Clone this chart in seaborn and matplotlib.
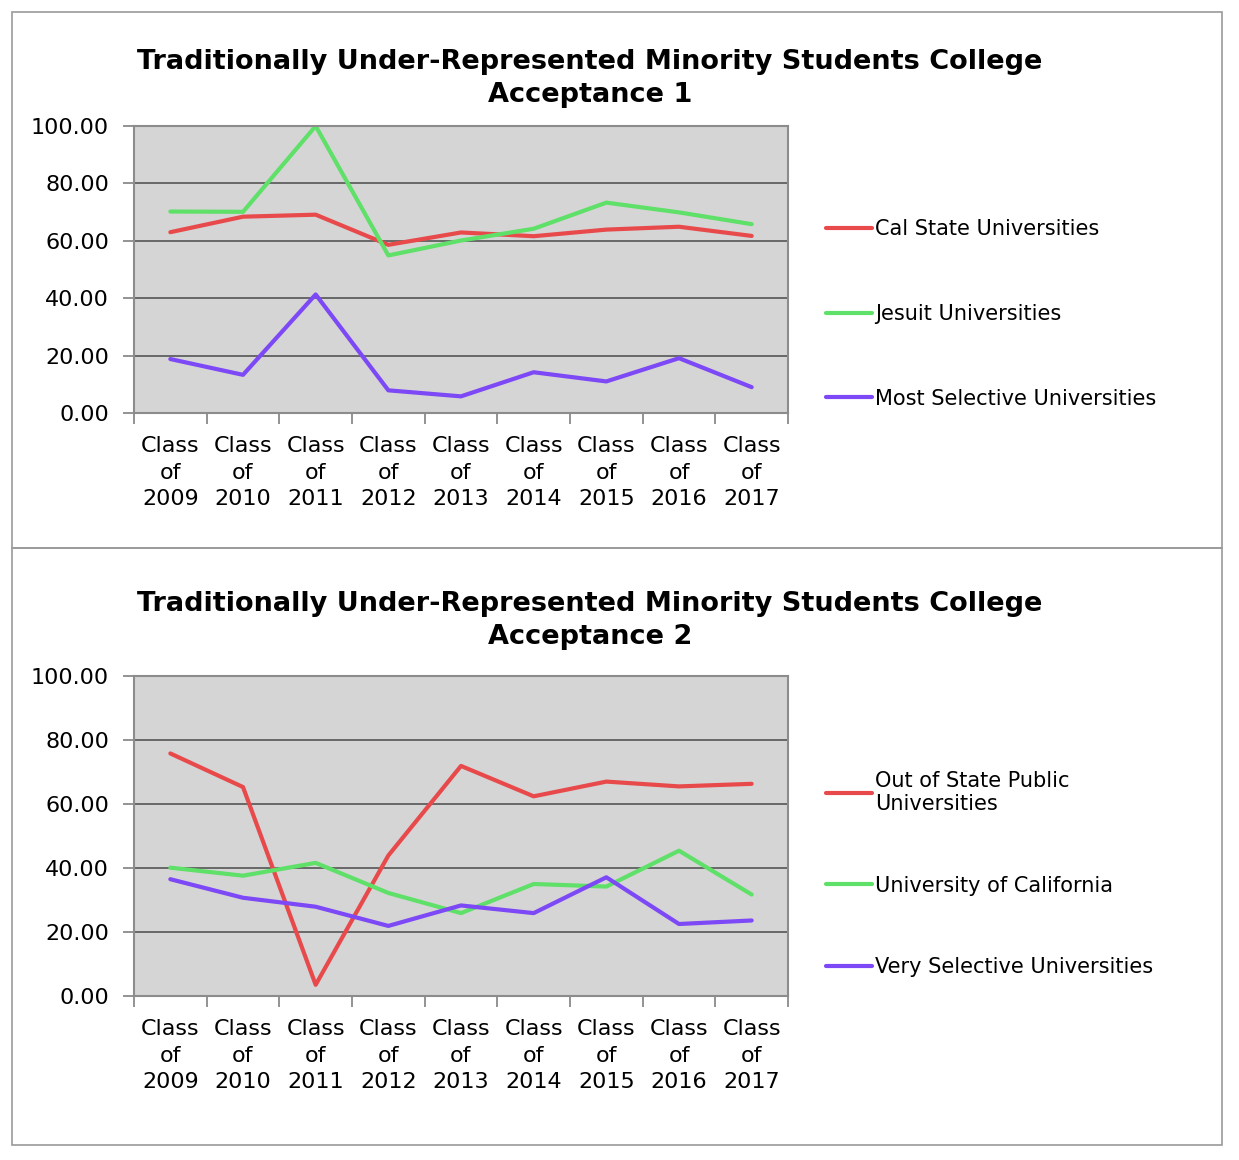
import matplotlib
matplotlib.use("Agg")
import matplotlib.pyplot as plt
import seaborn as sns
import pandas as pd
import numpy as np
from matplotlib.patches import Rectangle
from matplotlib.ticker import FixedLocator, FuncFormatter

# ---------------- data ----------------
categories = ["Class\nof\n2009", "Class\nof\n2010", "Class\nof\n2011", "Class\nof\n2012",
              "Class\nof\n2013", "Class\nof\n2014", "Class\nof\n2015", "Class\nof\n2016",
              "Class\nof\n2017"]

title_1 = "Traditionally Under-Represented Minority Students College\nAcceptance 1"
title_2 = "Traditionally Under-Represented Minority Students College\nAcceptance 2"

series_1_names = ["Cal State Universities", "Jesuit Universities", "Most Selective Universities"]
cal_state = [63.0, 68.4, 69.1, 58.6, 62.9, 61.6, 63.9, 64.9, 61.7]
jesuit = [70.2, 70.1, 100.0, 54.9, 60.1, 64.2, 73.3, 69.9, 65.8]
most_selective = [18.8, 13.3, 41.3, 7.9, 5.8, 14.2, 11.0, 19.1, 9.0]

series_2_names = ["Out of State Public\nUniversities", "University of California",
                  "Very Selective Universities"]
out_of_state = [75.8, 65.3, 3.5, 43.9, 71.9, 62.4, 67.0, 65.5, 66.3]
univ_california = [40.1, 37.6, 41.6, 32.2, 25.9, 35.0, 34.2, 45.4, 31.7]
very_selective = [36.5, 30.7, 27.9, 21.9, 28.3, 25.9, 37.1, 22.5, 23.6]

y_ticks = [0, 20, 40, 60, 80, 100]
colors = ["#e84a4c", "#5fe068", "#7d48f5"]

# ---------------- style ----------------
sns.set_style("white")
plt.rcParams["font.family"] = ["DejaVu Sans"]
plt.rcParams["text.color"] = "black"
plt.rcParams["xtick.color"] = "black"
plt.rcParams["ytick.color"] = "black"
plt.rcParams["axes.labelcolor"] = "black"

W, H = 1239, 1160
fig = plt.figure(figsize=(W / 100, H / 100), dpi=100)
fig.patch.set_facecolor("white")


def make_df(names, arrays):
    rows = []
    for name, vals in zip(names, arrays):
        for i, v in enumerate(vals):
            rows.append({"pos": i, "value": v, "series": name})
    return pd.DataFrame(rows)


def px_rect(x0, y0, x1, y1):
    return [x0 / W, 1 - y1 / H, (x1 - x0) / W, (y1 - y0) / H]


def draw_panel(rect, names, arrays, title, title_y, legend_center_y, labelspacing):
    ax = fig.add_axes(rect)
    df = make_df(names, arrays)
    sns.lineplot(data=df, x="pos", y="value", hue="series", hue_order=names,
                 palette=colors, linewidth=3.0, ax=ax, legend=True)
    ax.set_facecolor("#d5d5d5")
    n = len(categories)
    ax.set_xlim(-0.5, n - 0.5)
    ax.set_ylim(0, 100)
    ax.set_xlabel("")
    ax.set_ylabel("")
    # x: major ticks at category boundaries, labels at centres (minor)
    ax.xaxis.set_major_locator(FixedLocator(np.arange(-0.5, n, 1.0)))
    ax.xaxis.set_minor_locator(FixedLocator(np.arange(n)))
    ax.set_xticklabels([""] * (n + 1))
    ax.set_xticklabels(categories, minor=True, fontsize=16, linespacing=1.42,
                       color="black")
    ax.tick_params(axis="x", which="major", direction="out", length=8, width=1.2,
                   color="#808080", bottom=True)
    ax.tick_params(axis="x", which="minor", length=0, pad=16.5, bottom=True)
    ax.set_yticks(y_ticks)
    ax.yaxis.set_major_formatter(FuncFormatter(lambda v, p: f"{v:.2f}"))
    ax.tick_params(axis="y", direction="out", length=8, width=1.2, color="#808080",
                   labelsize=16, labelcolor="black", pad=10, left=True)
    ax.grid(axis="y", color="#555555", linewidth=1.2)
    ax.grid(axis="x", visible=False)
    ax.set_axisbelow(True)
    for s in ax.spines.values():
        s.set_color("#8c8c8c")
        s.set_linewidth(1.5)
        s.set_visible(True)
    # legend
    handles, labels = ax.get_legend_handles_labels()
    leg = ax.legend(handles, labels, loc="center left",
                    bbox_to_anchor=(826 / W, 1 - legend_center_y / H),
                    bbox_transform=fig.transFigure, frameon=False, fontsize=15,
                    handlelength=2.2, handletextpad=0.15, labelspacing=labelspacing,
                    borderpad=0, borderaxespad=0)
    for line in leg.get_lines():
        line.set_linewidth(3.0)
    for t in leg.get_texts():
        t.set_color("black")
    fig.text(590 / W, 1 - title_y / H, title, ha="center", va="center",
             fontsize=19.5, fontweight="bold", linespacing=1.38, color="black")
    return ax


draw_panel(px_rect(134, 126, 788, 413), series_1_names,
           [cal_state, jesuit, most_selective], title_1, 78.5, 314, 3.1)
draw_panel(px_rect(134, 676, 788, 996), series_2_names,
           [out_of_state, univ_california, very_selective], title_2, 620.5, 874, 2.95)

# panel borders
for (x0, y0, x1, y1) in [(12, 12, 1222, 548), (12, 548, 1222, 1145)]:
    fig.add_artist(Rectangle((x0 / W, 1 - y1 / H), (x1 - x0) / W, (y1 - y0) / H,
                             transform=fig.transFigure, fill=False,
                             edgecolor="#9a9a9a", linewidth=1.2))

fig.savefig("out.png", dpi=100, facecolor="white")
